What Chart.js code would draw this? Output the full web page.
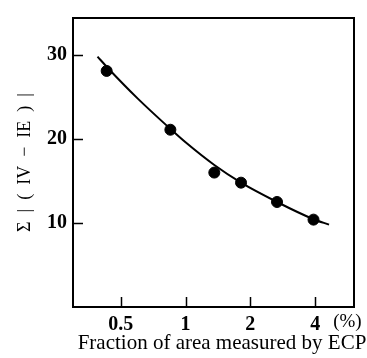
<!DOCTYPE html>
<html>
<head>
<meta charset="utf-8">
<script src="https://cdn.jsdelivr.net/npm/chart.js@4/dist/chart.umd.min.js"></script>
<style>
  html, body { margin: 0; padding: 0; background: #fff; }
  #wrap { width: 367px; height: 358px; }
</style>
</head>
<body>
<div id="wrap"><canvas id="chartEcp"></canvas></div>
<script>
// measured points (fraction of area %, sum |Iv-IE|)
const fracPts = [0.43, 0.85, 1.36, 1.81, 2.66, 3.93];
const sumPts = [28.1, 21.1, 16.0, 14.8, 12.5, 10.4];

// fitted curve
const fracCurve = [0.39, 0.43, 0.6, 0.85, 1.0, 1.36, 1.81, 2.66, 3.93, 4.64];
const sumCurve = [29.8, 28.6, 24.8, 21.2, 19.6, 16.9, 14.8, 12.5, 10.45, 9.8];

const xTicks = [0.5, 1, 2, 4];
const yTicks = [10, 20, 30];

const serif = "'Liberation Serif', 'DejaVu Serif', serif";

// frame + inward tick marks + (%) and x title
const frame = {
    id: 'frame',
    afterDraw(chart) {
        const ctx = chart.ctx;
        const a = chart.chartArea;
        const sx = chart.scales.x, sy = chart.scales.y;
        ctx.save();
        ctx.strokeStyle = '#000';
        ctx.lineWidth = 2;
        ctx.strokeRect(a.left, a.top, a.right - a.left, a.bottom - a.top);
        ctx.lineWidth = 1.5;
        ctx.beginPath();
        xTicks.forEach(v => {
            const px = Math.round(sx.getPixelForValue(v)) + 0.5;
            ctx.moveTo(px, a.bottom);
            ctx.lineTo(px, a.bottom - 10);
        });
        yTicks.forEach(v => {
            const py = Math.round(sy.getPixelForValue(v)) + 0.5;
            ctx.moveTo(a.left, py);
            ctx.lineTo(a.left + 10, py);
        });
        ctx.stroke();
        ctx.fillStyle = '#000';
        ctx.textBaseline = 'middle';
        ctx.font = '19px ' + serif;
        ctx.fillText('(%)', sx.getPixelForValue(4) + 18, a.bottom + 15);
        ctx.textAlign = 'center';
        ctx.font = '21px ' + serif;
        ctx.fillText('Fraction of area measured by ECP', 222, a.bottom + 36);
        ctx.restore();
    }
};

new Chart(document.getElementById('chartEcp'), {
    type: 'scatter',
    data: {
        datasets: [{
            label: 'fit',
            data: fracCurve.map((x, i) => ({ x: x, y: sumCurve[i] })),
            showLine: true,
            borderColor: '#000',
            borderWidth: 2,
            pointRadius: 0,
            cubicInterpolationMode: 'monotone'
        }, {
            label: 'measured',
            data: fracPts.map((x, i) => ({ x: x, y: sumPts[i] })),
            backgroundColor: '#000',
            borderColor: '#000',
            pointRadius: 5.5
        }]
    },
    options: {
        responsive: true,
        maintainAspectRatio: false,
        animation: false,
        layout: { padding: { top: 13, right: 13, left: 0, bottom: 0 } },
        plugins: {
            legend: { display: false },
            tooltip: { enabled: false }
        },
        scales: {
            x: {
                type: 'logarithmic',
                min: 0.304,
                max: 6.06,
                afterBuildTicks: s => { s.ticks = xTicks.map(v => ({ value: v })); },
                afterFit: s => { s.height = 51; },
                grid: { display: false, drawTicks: false },
                border: { display: false },
                ticks: {
                    autoSkip: false,
                    maxRotation: 0,
                    padding: 6,
                    color: '#000',
                    font: { family: serif, size: 20, weight: 'bold' },
                    callback: v => String(v)
                }
            },
            y: {
                min: 0,
                max: 34.4,
                afterBuildTicks: s => { s.ticks = yTicks.map(v => ({ value: v })); },
                afterFit: s => { s.width = 73; },
                grid: { display: false, drawTicks: false },
                border: { display: false },
                ticks: {
                    padding: 6,
                    color: '#000',
                    font: { family: serif, size: 20, weight: 'bold' }
                },
                title: {
                    display: true,
                    text: 'Σ  |  (  IV  −  IE  )  |',
                    color: '#000',
                    font: { family: serif, size: 18 },
                    padding: { top: 14, bottom: 4 }
                }
            }
        }
    },
    plugins: [frame]
});
</script>
</body>
</html>
